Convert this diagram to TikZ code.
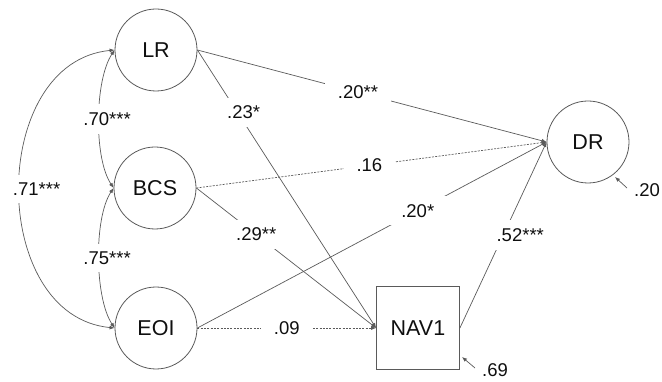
\documentclass[tikz,border=0pt]{standalone}
\usepackage{fontspec}
\setmainfont{Liberation Sans}
\usetikzlibrary{arrows.meta}
\definecolor{ln}{RGB}{90,90,90}
\definecolor{tx}{RGB}{15,15,15}
\tikzset{
  latent/.style={circle,draw=ln,line width=0.8pt,minimum size=82pt,inner sep=0pt,text=tx,font=\fontsize{21.5}{25}\selectfont},
  observed/.style={rectangle,draw=ln,line width=0.8pt,minimum size=83pt,inner sep=0pt,text=tx,font=\fontsize{21.5}{25}\selectfont},
  path/.style={draw=ln,line width=0.7pt,-{Latex[length=5pt,width=4pt]}},
  dpath/.style={path,dash pattern=on 2pt off 1.3pt},
  cov/.style={draw=ln,line width=0.7pt,{Latex[length=5pt,width=4pt]}-{Latex[length=5pt,width=4pt]}},
  lab/.style={fill=white,inner xsep=13pt,inner ysep=8pt,text=tx,font=\fontsize{18.5}{22}\selectfont},
  elab/.style={inner sep=1pt,text=tx,font=\fontsize{18.5}{22}\selectfont},
}
\begin{document}
\begin{tikzpicture}[x=1pt,y=-1pt]
\useasboundingbox (0,0) rectangle (662,382);
\node[latent] (LR) at (156,50) {LR};
\node[latent] (BCS) at (155,188) {BCS};
\node[latent] (EOI) at (156,328) {EOI};
\node[latent] (DR) at (588,142) {DR};
\node[observed] (NAV) at (418,328) {NAV1};

\draw[cov] (LR.west) .. controls +(-20,30) and +(-20,-30) .. node[lab,pos=0.5,xshift=8pt]{.70***} (BCS.west);
\draw[cov] (BCS.west) .. controls +(-20,30) and +(-20,-30) .. node[lab,pos=0.5,xshift=8pt]{.75***} (EOI.west);
\draw[cov] (LR.west) .. controls (-12,62) and (-12,316) .. node[lab,pos=0.5,xshift=17pt]{.71***} (EOI.west);

\draw[path] (LR.east) -- node[lab,pos=0.46]{.20**} (DR.west);
\draw[path] (LR.east) -- node[lab,pos=0.225,xshift=6pt]{.23*} (NAV.west);
\draw[dpath] (BCS.east) -- node[lab,pos=0.494]{.16} (DR.west);
\draw[path] (BCS.east) -- node[lab,pos=0.333]{.29**} (NAV.west);
\draw[path] (EOI.east) -- node[lab,pos=0.631]{.20*} (DR.west);
\draw[dpath] (EOI.east) -- node[lab,pos=0.5]{.09} (NAV.west);
\draw[path] (NAV.east) -- node[lab,pos=0.5,xshift=17pt]{.52***} (DR.west);

\node[elab] (e1) at (647,190) {.20};
\coordinate (e1s) at (627,188);
\coordinate (e1t) at (615,177);
\draw[path] (e1s) -- (e1t);
\node[elab] (e2) at (495,370) {.69};
\coordinate (e2s) at (475,368);
\coordinate (e2t) at (462,357);
\draw[path] (e2s) -- (e2t);
\end{tikzpicture}
\end{document}
